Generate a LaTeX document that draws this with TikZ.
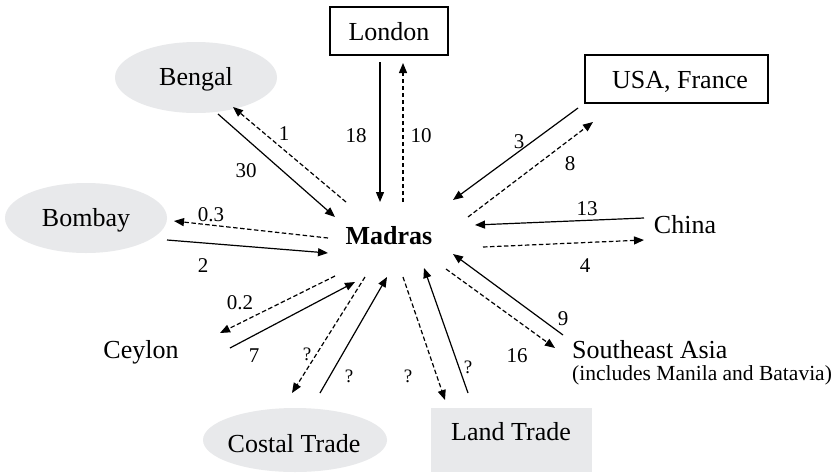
\documentclass[tikz,border=0pt]{standalone}
\usepackage{fontspec}
\setmainfont{Liberation Serif}
\usetikzlibrary{arrows.meta,shapes.geometric}
\definecolor{shade}{RGB}{232,233,235}
\begin{document}
\begin{tikzpicture}[x=1pt,y=-1pt,
  main/.style={font=\fontsize{26}{30}\selectfont, inner sep=0, anchor=base},
  sub/.style={font=\fontsize{21.5}{25}\selectfont, inner sep=0, anchor=base west},
  num/.style={font=\fontsize{21}{24}\selectfont, inner sep=0, anchor=base},
  qm/.style={font=\fontsize{19}{22}\selectfont, inner sep=0, anchor=base},
  sol/.style={line width=1.2pt,-{Triangle[length=10pt,width=8pt]}},
  dsh/.style={sol,dash pattern=on 4.5pt off 2.5pt},
  framebox/.style={draw, line width=1.4pt, inner sep=0},
  oval/.style={ellipse, fill=shade, inner sep=0},
  greybox/.style={rectangle, fill=shade, inner sep=0}
]
\useasboundingbox (0,0) rectangle (838,472);
\fill[white] (0,0) rectangle (838,472);

% shapes
\node[framebox, minimum width=118pt, minimum height=48pt] (londonbox) at (389,31) {};
\node[framebox, minimum width=183pt, minimum height=48pt] (usabox) at (676.5,79) {};
\node[oval, minimum width=162pt, minimum height=71pt] (bengalov) at (196,77.5) {};
\node[oval, minimum width=162pt, minimum height=70pt] (bombayov) at (86,218) {};
\node[oval, minimum width=184pt, minimum height=64pt] (costalov) at (295,440) {};
\node[greybox, minimum width=161pt, minimum height=64pt] (landbox) at (511.5,440) {};

% texts
\node[main] (london) at (389,40) {London};
\node[main] (usa) at (680,88) {USA, France};
\node[main] (bengal) at (196,85) {Bengal};
\node[main] (bombay) at (86,226) {Bombay};
\node[main] (china) at (685,233) {China};
\node[main] (madras) at (389,244) {\bfseries Madras};
\node[main] (ceylon) at (141,358) {Ceylon};
\node[main] (costal) at (294,452) {Costal Trade};
\node[main] (land) at (511,440) {Land Trade};
\node[main, anchor=base west] (sea) at (572,358) {Southeast Asia};
\node[sub] (seasub) at (572,380) {(includes Manila and Batavia)};

% arrow end points
\coordinate (bgA) at (218,114); \coordinate (bgB) at (335,217);
\coordinate (bgC) at (346,202); \coordinate (bgD) at (233,107);
\coordinate (ldA) at (380,62);  \coordinate (ldB) at (380,202);
\coordinate (ldC) at (403,202); \coordinate (ldD) at (403,63);
\coordinate (usA) at (578,108); \coordinate (usB) at (453,200);
\coordinate (usC) at (468,217); \coordinate (usD) at (593,122);
\coordinate (chA) at (644,218); \coordinate (chB) at (475,225);
\coordinate (chC) at (483,247); \coordinate (chD) at (644,240);
\coordinate (bmC) at (328,238); \coordinate (bmD) at (174,221);
\coordinate (bmA) at (167,240); \coordinate (bmB) at (328,253);
\coordinate (cyC) at (335,276); \coordinate (cyD) at (220,333);
\coordinate (cyA) at (230,348); \coordinate (cyB) at (355,282);
\coordinate (ctC) at (365,277); \coordinate (ctD) at (292,393);
\coordinate (ctA) at (320,393); \coordinate (ctB) at (387,277);
\coordinate (ltC) at (403,277); \coordinate (ltD) at (445,400);
\coordinate (ltA) at (468,393); \coordinate (ltB) at (424,268);
\coordinate (seA) at (563,335); \coordinate (seB) at (453,254);
\coordinate (seC) at (446,269); \coordinate (seD) at (555,348);

% arrows
\draw[sol] (bgA) -- (bgB);  \draw[dsh] (bgC) -- (bgD);
\draw[sol] (ldA) -- (ldB);  \draw[dsh] (ldC) -- (ldD);
\draw[sol] (usA) -- (usB);  \draw[dsh] (usC) -- (usD);
\draw[sol] (chA) -- (chB);  \draw[dsh] (chC) -- (chD);
\draw[sol] (bmA) -- (bmB);  \draw[dsh] (bmC) -- (bmD);
\draw[sol] (cyA) -- (cyB);  \draw[dsh] (cyC) -- (cyD);
\draw[sol] (ctA) -- (ctB);  \draw[dsh] (ctC) -- (ctD);
\draw[sol] (ltA) -- (ltB);  \draw[dsh] (ltC) -- (ltD);
\draw[sol] (seA) -- (seB);  \draw[dsh] (seC) -- (seD);

% labels
\node[num] (l1) at (284,140) {1};
\node[num] (l30) at (246,177) {30};
\node[num] (l18) at (356,142) {18};
\node[num] (l10) at (421,142) {10};
\node[num] (l3) at (519,148) {3};
\node[num] (l8) at (570,170) {8};
\node[num] (l13) at (587,215) {13};
\node[num] (l4) at (585,272) {4};
\node[num] (l03) at (211,221) {0.3};
\node[num] (l2) at (203,272) {2};
\node[num] (l02) at (240,309) {0.2};
\node[num] (l7) at (254,362) {7};
\node[qm] (q1) at (307,360) {?};
\node[qm] (q2) at (349,382) {?};
\node[qm] (q3) at (408,382) {?};
\node[qm] (q4) at (468,373) {?};
\node[num] (l9) at (563,325) {9};
\node[num] (l16) at (517,362) {16};
\end{tikzpicture}
\end{document}
